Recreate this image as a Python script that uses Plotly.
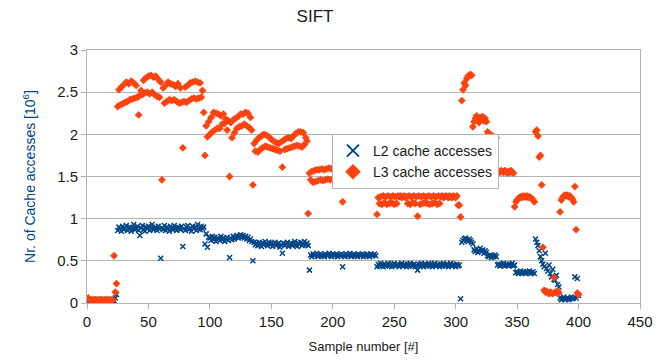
import plotly.graph_objects as go

# Sample numbers 1..400
samples = list(range(1, 401))

# L2 cache accesses [10^6]
L2 = [
    0.02,0.01,0.02,0.03,0.01,0.02,0.02,0.01,0.03,0.02,0.01,0.02,0.02,0.03,0.01,0.02,0.02,0.01,0.03,0.02,0.02,0.03,
    0.06,0.10,
    0.86,0.90,0.88,0.85,0.91,0.87,0.89,0.92,0.86,0.88,
    0.90,0.85,0.89,0.93,0.87,0.88,0.91,0.86,0.80,0.89,
    0.92,0.87,0.85,0.90,0.88,0.91,0.86,0.89,0.93,0.87,
    0.88,0.90,0.86,0.91,0.88,0.53,0.89,0.87,0.92,0.86,
    0.90,0.88,0.85,0.91,0.89,0.87,0.92,0.88,0.86,0.90,
    0.89,0.87,0.91,0.67,0.88,0.86,0.90,0.92,0.87,0.89,
    0.85,0.91,0.88,0.90,0.86,0.93,0.89,0.87,0.91,0.88,0.90,
    0.70,0.82,0.66,0.78,
    0.77,0.74,0.79,0.75,0.78,0.73,0.77,0.76,0.74,0.79,
    0.75,0.77,0.73,0.76,0.78,0.74,0.54,0.77,0.75,0.79,
    0.76,0.78,0.80,0.77,0.79,0.81,0.78,0.80,0.77,0.79,
    0.76,0.78,0.74,0.76,0.73,
    0.50,0.72,0.69,0.71,0.68,0.72,0.70,0.67,0.71,0.69,
    0.73,0.70,0.68,0.72,0.69,0.71,0.67,0.70,0.72,0.68,
    0.70,0.71,0.66,0.69,0.59,0.71,0.68,0.70,0.72,0.67,
    0.69,0.71,0.68,0.70,0.73,0.69,0.67,0.71,0.70,0.72,
    0.68,0.70,0.73,0.69,0.71,0.68,
    0.39,0.57,0.55,0.58,0.56,0.57,0.59,0.55,0.57,0.58,
    0.56,0.57,0.55,0.58,0.57,0.56,0.59,0.57,0.55,0.58,
    0.56,0.57,0.58,0.55,0.57,0.56,0.58,0.43,0.57,0.55,
    0.58,0.56,0.57,0.59,0.55,0.57,0.58,0.56,0.57,0.55,
    0.58,0.57,0.56,0.58,0.55,0.57,0.56,0.58,0.57,0.55,
    0.58,0.56,0.57,0.58,0.56,
    0.43,0.46,0.44,0.47,0.45,0.43,0.46,0.44,0.45,0.47,
    0.44,0.46,0.43,0.45,0.47,0.44,0.45,0.46,0.43,0.45,
    0.47,0.44,0.46,0.45,0.43,0.46,0.44,0.47,0.45,0.44,
    0.46,0.43,0.45,0.39,0.46,0.44,0.47,0.45,0.43,0.46,
    0.44,0.45,0.47,0.44,0.46,0.43,0.45,0.47,0.44,0.46,
    0.45,0.43,0.46,0.44,0.47,0.45,0.44,0.46,0.43,0.45,
    0.47,0.44,0.46,0.45,0.43,0.46,0.44,0.45,0.05,
    0.72,0.74,0.76,0.77,0.75,0.73,0.76,0.74,0.72,0.70,
    0.63,0.61,0.64,0.60,0.62,0.65,0.61,0.63,0.59,0.62,0.60,
    0.56,0.55,0.57,0.54,0.56,0.55,0.57,0.55,
    0.45,0.46,0.44,0.46,0.45,0.47,0.44,0.46,0.45,0.44,0.46,0.45,0.47,0.44,0.45,
    0.36,0.37,0.35,0.36,0.38,0.35,0.37,0.36,0.35,0.37,0.36,0.38,0.35,0.36,0.37,0.35,
    0.76,0.72,0.68,0.62,0.55,0.50,
    0.46,0.43,0.59,0.41,0.38,0.45,0.35,0.31,0.40,0.28,0.27,0.33,0.22,0.19,
    0.06,0.04,0.05,0.07,0.04,0.05,0.06,0.04,0.05,0.07,0.05,0.06,0.31,0.06,0.29,0.09,
]

# L3 cache accesses [10^6]
L3 = [
    0.06,0.04,0.03,0.04,0.03,0.04,0.04,0.03,0.04,0.03,0.04,0.04,0.03,0.04,0.03,0.04,0.04,0.03,0.04,0.03,0.04,
    0.56,0.13,0.23,
    2.33,2.53,2.35,2.56,2.36,2.59,2.38,2.62,2.39,2.60,
    2.41,2.63,2.42,2.61,2.43,2.58,2.44,2.23,2.46,2.52,
    2.47,2.64,2.49,2.67,2.50,2.69,2.48,2.70,2.50,2.68,
    2.47,2.69,2.45,2.65,2.44,2.62,1.46,2.55,2.37,2.58,
    2.39,2.62,2.41,2.60,2.40,2.59,2.41,2.57,2.39,2.60,
    2.37,2.55,2.38,1.84,2.39,2.56,2.38,2.58,2.40,2.61,
    2.42,2.62,2.43,2.63,2.42,2.62,2.43,2.61,2.44,2.52,2.26,
    1.75,2.10,1.97,2.15,2.00,2.20,2.03,2.26,2.05,2.25,
    2.07,2.24,2.07,2.22,2.12,2.24,2.13,2.18,2.05,2.16,
    1.50,2.14,1.96,2.17,2.02,2.19,2.07,2.21,2.09,2.24,
    2.10,2.24,2.12,2.26,2.10,2.25,2.08,2.20,2.05,1.40,
    1.89,1.80,1.93,1.79,1.96,1.82,1.98,1.84,2.00,1.86,
    1.99,1.85,1.97,1.84,1.94,1.83,1.92,1.82,1.90,1.81,
    1.89,1.80,1.91,1.61,1.93,1.82,1.95,1.83,1.96,1.84,
    1.95,1.85,1.98,1.86,2.01,1.87,2.03,1.86,2.03,1.85,
    2.02,1.88,1.96,1.92,
    1.06,
    1.54,1.46,1.56,1.43,1.57,1.44,1.58,1.45,1.58,1.46,
    1.59,1.45,1.58,1.46,1.59,1.47,1.60,1.46,1.59,1.47,
    1.60,1.46,1.59,1.47,1.60,1.46,1.59,1.20,1.60,1.47,
    1.59,1.46,1.60,1.47,1.59,1.46,1.60,1.47,1.59,1.46,
    1.60,1.47,1.59,1.46,1.60,1.47,1.59,1.46,1.60,1.47,
    1.59,1.46,1.60,1.47,1.59,
    1.05,
    1.25,1.18,1.26,1.17,1.27,1.19,1.26,1.17,1.27,1.18,
    1.26,1.19,1.27,1.17,1.26,1.18,1.27,1.26,1.27,1.25,
    1.26,1.27,1.25,1.26,1.18,1.27,1.17,1.26,1.19,1.27,
    1.18,1.26,1.03,1.27,1.17,1.26,1.18,1.27,1.19,1.26,
    1.18,1.27,1.17,1.26,1.18,1.27,1.19,1.26,1.17,1.27,
    1.18,1.26,1.27,1.25,1.26,1.27,1.26,1.25,1.27,1.26,
    1.25,1.27,1.26,1.25,1.27,1.16,1.16,
    1.02,
    2.40,2.53,2.61,2.58,2.66,2.69,2.70,2.71,2.70,
    2.09,2.15,2.19,2.22,2.17,2.14,2.20,2.18,2.21,2.16,2.19,2.15,
    2.03,2.01,1.99,1.97,1.98,1.95,1.93,1.96,
    1.54,1.56,1.55,1.57,1.56,1.55,1.57,1.56,1.54,1.56,1.55,1.57,1.55,1.54,
    1.14,
    1.20,1.22,1.24,1.25,1.26,1.25,1.27,1.26,1.26,1.27,1.25,1.26,1.25,1.24,1.22,1.20,
    2.03,2.05,1.98,1.73,1.75,1.40,
    0.66,0.15,0.13,0.14,0.12,0.11,0.13,0.12,0.11,0.30,0.13,0.12,0.14,0.12,
    1.08,
    1.22,1.25,1.27,1.28,1.27,1.28,1.26,1.27,1.25,1.23,1.20,
    1.38,0.87,0.12,0.10,
]

x_ticks = [0, 50, 100, 150, 200, 250, 300, 350, 400, 450]
y_ticks = [0, 0.5, 1, 1.5, 2, 2.5, 3]

FONT = "Liberation Sans, Arial, sans-serif"
GRID = "#b3b3b3"

fig = go.Figure()
fig.add_trace(go.Scatter(
    x=samples, y=L2, mode="markers", name="L2 cache accesses",
    marker=dict(symbol="x-thin", size=5, color="#004586",
                line=dict(color="#004586", width=1.5)),
))
fig.add_trace(go.Scatter(
    x=samples, y=L3, mode="markers", name="L3 cache accesses",
    marker=dict(symbol="diamond", size=6, color="#ff420e", line=dict(width=0)),
))

fig.update_layout(
    width=664, height=362,
    margin=dict(l=86.5, r=24, t=50, b=59.3, autoexpand=False),
    paper_bgcolor="white", plot_bgcolor="white",
    font=dict(family=FONT, color="#333333"),
    title=dict(text="SIFT", x=315/664, xanchor="center", y=1 - 16/362, yanchor="middle",
               font=dict(size=17, color="#1a1a1a", family=FONT)),
    showlegend=True,
    legend=dict(x=0.443, y=0.668, xanchor="left", yanchor="top",
                bgcolor="white", bordercolor=GRID, borderwidth=1,
                font=dict(size=14, color="#1a1a1a", family=FONT),
                itemsizing="constant", itemwidth=30, tracegroupgap=0),
)
fig.update_xaxes(
    range=[0, 450], tickvals=x_ticks, ticktext=[str(v) for v in x_ticks],
    showgrid=False, zeroline=False, showline=True, linecolor=GRID, linewidth=1, mirror=True,
    ticks="outside", ticklen=5, tickcolor=GRID, automargin=False,
    tickfont=dict(size=15, color="#1a1a1a"),
    title=dict(text="Sample number [#]", font=dict(size=13, color="#1a1a1a"), standoff=12),
)
fig.update_yaxes(
    range=[0, 3], tickvals=y_ticks, ticktext=["0", "0.5", "1", "1.5", "2", "2.5", "3"],
    showgrid=True, gridcolor=GRID, gridwidth=1, zeroline=False,
    showline=True, linecolor=GRID, linewidth=1, mirror=True,
    ticks="outside", ticklen=5, tickcolor=GRID, automargin=False,
    tickfont=dict(size=15, color="#1a1a1a"),
    title=dict(text="Nr. of Cache accesses [10<sup>6</sup>]", font=dict(size=14, color="#004586"), standoff=18),
)

fig.write_html("out.html")
